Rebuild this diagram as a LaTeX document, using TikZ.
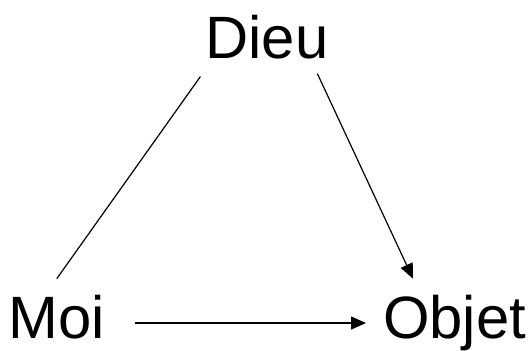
\documentclass[tikz,border=0pt]{standalone}
\usepackage{fontspec}
\setmainfont{Liberation Sans}
\usetikzlibrary{arrows.meta,calc}
\begin{document}
\begin{tikzpicture}[x=1bp,y=-1bp,
  lbl/.style={font=\fontsize{60}{72}\selectfont, inner sep=0pt, outer sep=0pt, anchor=base west},
  conn/.style={line width=1.2bp, black},
  arr/.style={conn, -{Triangle[length=15bp,width=13bp]}}]
\useasboundingbox (0,0) rectangle (532,350);
\node[lbl] (dieu) at (205.4,58) {Dieu};
\node[lbl] (moi) at (8.6,338) {Moi};
\node[lbl] (objet) at (383,338) {Objet};
\draw[conn] ($(moi.north)+(0,-16)$) -- ($(dieu.south west)+(-5,18)$);
\draw[arr] ($(dieu.south east)+(-11,15)$) -- ($(objet.north west)+(30,-16)$);
\draw[arr] ($(moi.base east)+(30,-15)$) -- ($(objet.base west)+(-17,-15)$);
\end{tikzpicture}
\end{document}
